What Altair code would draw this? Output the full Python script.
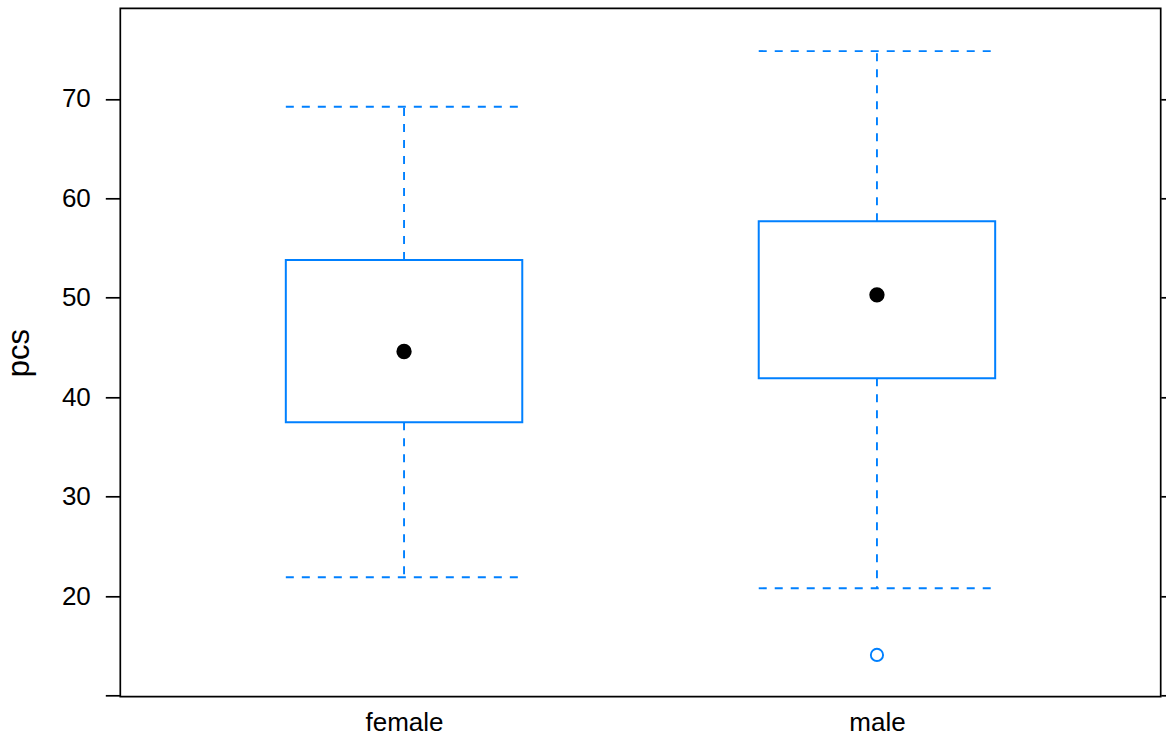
import altair as alt
import pandas as pd

# Five-number summaries of pcs by sex
groups = ["female", "male"]
lower_whisker = [21.9, 20.8]
q1 = [37.5, 41.9]
median = [44.6, 50.3]
q3 = [53.8, 57.7]
upper_whisker = [69.2, 74.8]

# Points beyond the whiskers
outlier_group = ["male"]
outlier_value = [14.1]

y_ticks = [10, 20, 30, 40, 50, 60, 70]
y_labelled = [20, 30, 40, 50, 60, 70]

BOX_BLUE = "#0080ff"
FONT = "Liberation Sans"
BOX_HALF = 0.25  # half box width, in units of category spacing
EDGE_PAD = 0.6   # space before the first / after the last category, same units

pos = {g: i + 1 for i, g in enumerate(groups)}

stats = pd.DataFrame(
    {
        "group": groups,
        "pos": [pos[g] for g in groups],
        "lo": lower_whisker,
        "q1": q1,
        "med": median,
        "q3": q3,
        "hi": upper_whisker,
    }
)
stats["left"] = stats["pos"] - BOX_HALF
stats["right"] = stats["pos"] + BOX_HALF

outliers = pd.DataFrame({"group": outlier_group, "value": outlier_value})
outliers["pos"] = outliers["group"].map(pos)

y_label_expr = "indexof([" + ",".join(str(v) for v in y_labelled) + "], datum.value) >= 0 ? datum.label : ''"

# numeric x for drawing boxes; a point scale with the same layout carries the group labels
x_scale = alt.Scale(domain=[1 - EDGE_PAD, len(groups) + EDGE_PAD], nice=False, zero=False)
x_cat_scale = alt.Scale(type="point", domain=groups, padding=EDGE_PAD)
y_scale = alt.Scale(domain=[9.9, 79.1], nice=False, zero=False)

W, H = 1040.4, 688.4

x_axis = alt.Axis(
    title="",
    orient="bottom",
    ticks=False,
    tickSize=0,
    labelPadding=13,
    labelFontSize=26,
    labelFont=FONT,
    labelColor="black",
    labelBaseline="top",
    labelAngle=0,
    domain=False,
    grid=False,
)

left_axis = alt.Axis(
    title="pcs",
    orient="left",
    values=y_ticks,
    labelExpr=y_label_expr,
    tickSize=15,
    tickWidth=1.7,
    tickColor="black",
    labelPadding=15,
    labelFontSize=26,
    labelFont=FONT,
    labelColor="black",
    titleFont=FONT,
    titleFontSize=31,
    titleFontWeight="normal",
    titleColor="black",
    titleAngle=270,
    titleBaseline="alphabetic",
    titleAlign="center",
    titleX=-92,
    titleY=H / 2,
    domain=False,
    grid=False,
)

right_axis = alt.Axis(
    title="",
    orient="right",
    values=y_ticks,
    labels=False,
    tickSize=15,
    tickWidth=1.7,
    tickColor="black",
    domain=False,
    grid=False,
)

base = alt.Chart(stats)

box = base.mark_rect(fillOpacity=0, stroke=BOX_BLUE, strokeWidth=2).encode(
    x=alt.X("left:Q", scale=x_scale, axis=None),
    x2="right:Q",
    y=alt.Y("q1:Q", scale=y_scale, axis=left_axis),
    y2="q3:Q",
)

dash = dict(stroke=BOX_BLUE, strokeWidth=1.9, strokeDash=[8, 8])

upper_stem = base.mark_rule(**dash).encode(
    x=alt.X("pos:Q", scale=x_scale, axis=None),
    y=alt.Y("q3:Q", scale=y_scale, axis=right_axis),
    y2="hi:Q",
)

lower_stem = base.mark_rule(**dash).encode(
    x=alt.X("pos:Q", scale=x_scale, axis=None),
    y=alt.Y("q1:Q", scale=y_scale, axis=None),
    y2="lo:Q",
)

upper_cap = base.mark_rule(**dash).encode(
    x=alt.X("left:Q", scale=x_scale, axis=None),
    x2="right:Q",
    y=alt.Y("hi:Q", scale=y_scale, axis=None),
)

lower_cap = base.mark_rule(**dash).encode(
    x=alt.X("left:Q", scale=x_scale, axis=None),
    x2="right:Q",
    y=alt.Y("lo:Q", scale=y_scale, axis=None),
)

median_dot = base.mark_circle(color="black", opacity=1, size=235).encode(
    x=alt.X("group:N", scale=x_cat_scale, axis=x_axis, sort=groups),
    y=alt.Y("med:Q", scale=y_scale, axis=None),
)

outlier_pts = (
    alt.Chart(outliers)
    .mark_point(shape="circle", filled=False, stroke=BOX_BLUE, strokeWidth=1.9, size=150, opacity=1)
    .encode(
        x=alt.X("pos:Q", scale=x_scale, axis=None),
        y=alt.Y("value:Q", scale=y_scale, axis=None),
    )
)

chart = (
    alt.layer(box, upper_stem, lower_stem, upper_cap, lower_cap, outlier_pts, median_dot)
    .resolve_scale(x="independent")
    .resolve_axis(x="independent", y="independent")
    .properties(
        width=W,
        height=H,
        background="white",
        autosize=alt.AutoSizeParams(type="none"),
        padding={"left": 120.3, "top": 8.3, "right": 5.3, "bottom": 39.3},
    )
    .configure_view(stroke="black", strokeWidth=1.7)
)

chart.save("out.html", embed_options={"renderer": "svg", "actions": False})
